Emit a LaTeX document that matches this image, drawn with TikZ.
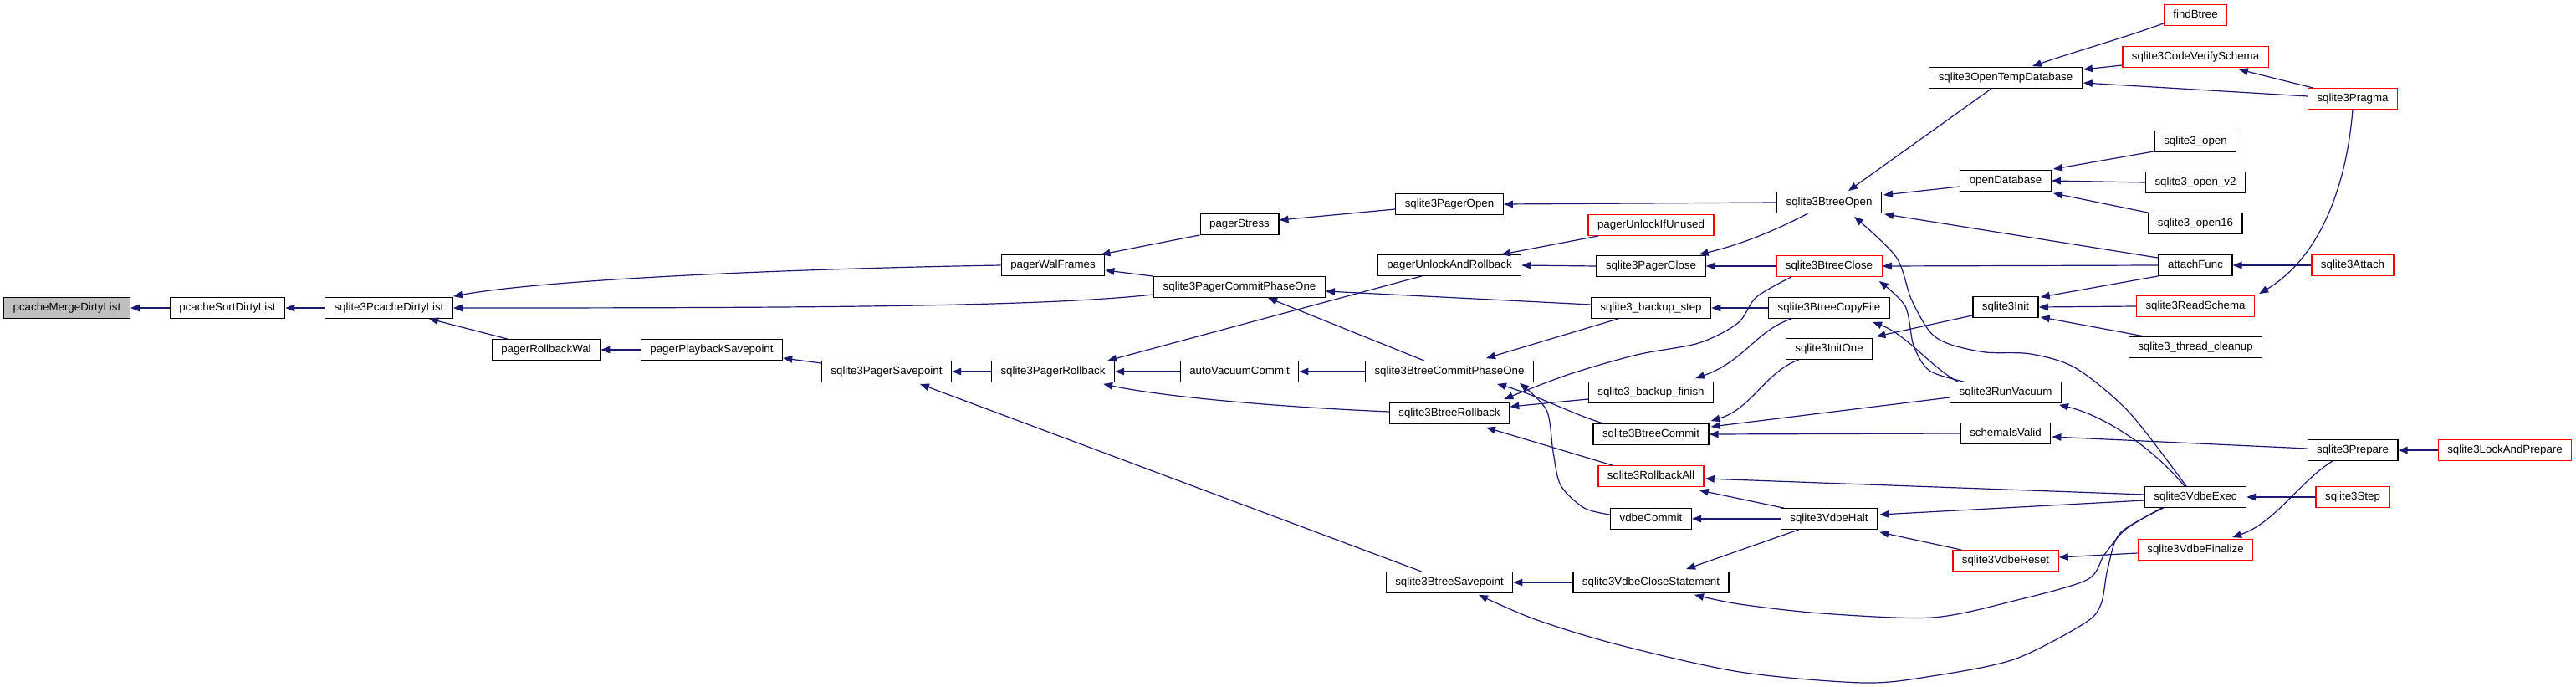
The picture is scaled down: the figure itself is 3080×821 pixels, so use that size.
\documentclass[tikz,border=0pt]{standalone}
\usepackage{fontspec}
\setmainfont{Liberation Sans}
\usetikzlibrary{arrows.meta,calc}
\definecolor{edgeblue}{RGB}{25,25,112}
\definecolor{nodegray}{RGB}{191,191,191}
\definecolor{nodered}{RGB}{255,0,0}
\newcommand\fnfont{\fontsize{13.3}{15}\selectfont}
\tikzset{
  fn/.style={draw=black, fill=white, line width=1.3pt, inner xsep=11pt, inner ysep=0pt,
    minimum height=24.5pt, text height=9.8pt, text depth=2.8pt, font=\fnfont},
  fnred/.style={fn, draw=nodered},
  fncur/.style={fn, fill=nodegray},
  edge/.style={draw=edgeblue, line width=1.2pt, -{Triangle[length=11pt,width=8.5pt]}},
}
\begin{document}
\begin{tikzpicture}[x=1pt,y=-1pt]
\useasboundingbox (0,0) rectangle (3080,821);
% nodes
\node[fncur] (A) at (80,368) {pcacheMergeDirtyList};
\node[fn] (B) at (272,368) {pcacheSortDirtyList};
\node[fn] (C) at (465,368) {sqlite3PcacheDirtyList};
\node[fn] (D) at (653,418) {pagerRollbackWal};
\node[fn] (E) at (1259,317) {pagerWalFrames};
\node[fn] (F) at (851,418) {pagerPlaybackSavepoint};
\node[fn] (G) at (1060,444) {sqlite3PagerSavepoint};
\node[fn] (H) at (1482,268) {pagerStress};
\node[fn] (I) at (1482,343) {sqlite3PagerCommitPhaseOne};
\node[fn] (J) at (1259,444) {sqlite3PagerRollback};
\node[fn] (K) at (1482,444) {autoVacuumCommit};
\node[fn] (L) at (1733,244) {sqlite3PagerOpen};
\node[fn] (M) at (1733,317) {pagerUnlockAndRollback};
\node[fn] (N) at (1733,444) {sqlite3BtreeCommitPhaseOne};
\node[fn] (O) at (1733,494) {sqlite3BtreeRollback};
\node[fn] (P) at (1733,696) {sqlite3BtreeSavepoint};
\node[fnred] (Q) at (1974,269) {pagerUnlockIfUnused};
\node[fn] (R) at (1974,318) {sqlite3PagerClose};
\node[fn] (S) at (1974,368) {sqlite3\_backup\_step};
\node[fn] (T) at (1974,469) {sqlite3\_backup\_finish};
\node[fn] (U) at (1974,519) {sqlite3BtreeCommit};
\node[fnred] (V) at (1974,569) {sqlite3RollbackAll};
\node[fn] (W) at (1974,620) {vdbeCommit};
\node[fn] (X) at (1974,696) {sqlite3VdbeCloseStatement};
\node[fn] (Y) at (2187,242) {sqlite3BtreeOpen};
\node[fnred] (Z) at (2187,318) {sqlite3BtreeClose};
\node[fn] (AA) at (2187,368) {sqlite3BtreeCopyFile};
\node[fn] (AB) at (2187,417) {sqlite3InitOne};
\node[fn] (AC) at (2187,620) {sqlite3VdbeHalt};
\node[fn] (AD) at (2398,93) {sqlite3OpenTempDatabase};
\node[fn] (AE) at (2398,216) {openDatabase};
\node[fn] (AF) at (2398,367) {sqlite3Init};
\node[fn] (AG) at (2398,469) {sqlite3RunVacuum};
\node[fn] (AH) at (2398,518) {schemaIsValid};
\node[fnred] (AI) at (2398,670) {sqlite3VdbeReset};
\node[fnred] (AJ) at (2625,18) {findBtree};
\node[fnred] (AK) at (2625,68) {sqlite3CodeVerifySchema};
\node[fn] (AL) at (2625,169) {sqlite3\_open};
\node[fn] (AM) at (2625,218) {sqlite3\_open\_v2};
\node[fn] (AN) at (2625,267) {sqlite3\_open16};
\node[fn] (AO) at (2625,317) {attachFunc};
\node[fnred] (AP) at (2625,366) {sqlite3ReadSchema};
\node[fn] (AQ) at (2625,415) {sqlite3\_thread\_cleanup};
\node[fn] (AR) at (2625,594) {sqlite3VdbeExec};
\node[fnred] (AS) at (2625,657) {sqlite3VdbeFinalize};
\node[fnred] (AT) at (2813,118) {sqlite3Pragma};
\node[fnred] (AU) at (2813,317) {sqlite3Attach};
\node[fn] (AV) at (2813,538) {sqlite3Prepare};
\node[fnred] (AW) at (2813,594) {sqlite3Step};
\node[fnred] (AX) at (2995,538) {sqlite3LockAndPrepare};
% edges
\draw[edge] (B.west) -- (A.east);
\draw[edge] (C.west) -- (B.east);
\draw[edge] (E.west) .. controls (900,322) and (640,336) .. ($(C.north east)+(0,-1)$);
\draw[edge] ($(I.west)+(0,9)$) .. controls (1250,366) and (1000,368) .. (C.east);
\draw[edge] ($(D.north)+(-46,0)$) -- ($(C.south)+(48,0)$);
\draw[edge] (F.west) -- (D.east);
\draw[edge] ($(G.west)+(0,-10)$) -- ($(F.east)+(0,10)$);
\draw[edge] (H.south west) -- ($(E.north east)+(-5,0)$);
\draw[edge] (I.north west) -- ($(E.east)+(0,6)$);
\draw[edge] ($(L.west)+(0,6)$) -- ($(H.east)+(0,-5)$);
\draw[edge] (Y.west) -- (L.east);
\draw[edge] ($(N.north)+(-30,0)$) -- ($(I.south)+(34,0)$);
\draw[edge] ($(S.west)+(0,-4)$) -- ($(I.east)+(0,5)$);
\draw[edge] (J.west) -- (G.east);
\draw[edge] (K.west) -- (J.east);
\draw[edge] (N.west) -- (K.east);
\draw[edge] ($(M.south)+(-33,0)$) -- ($(J.north east)+(-9,0)$);
\draw[edge] ($(O.west)+(0,-2)$) .. controls (1500,485) and (1380,472) .. ($(J.south east)+(-14,2)$);
\draw[edge] ($(P.north)+(-33,0)$) -- ($(G.south)+(40,2)$);
\draw[edge] ($(Q.south west)+(13,0)$) -- ($(M.north)+(62,0)$);
\draw[edge] (R.west) -- (M.east);
\draw[edge] ($(Y.south)+(-25,0)$) .. controls (2110,282) and (2070,295) .. ($(R.north east)+(-8,-1)$);
\draw[edge] (Z.west) -- (R.east);
\draw[edge] (AA.west) -- (S.east);
\draw[edge] ($(S.south)+(-39,0)$) -- ($(N.north)+(44,-3)$);
\draw[edge] ($(U.north west)+(13,0)$) .. controls (1880,495) and (1840,473) .. ($(N.south)+(57,2)$);
\draw[edge] plot[smooth] coordinates {($(W.west)+(0,-5)$) (1894,607) (1866,580) (1857,540) (1849,490) ($(N.south)+(84,1)$)};
\draw[edge] ($(T.west)+(0,8)$) -- ($(O.east)+(0,-8)$);
\draw[edge] plot[smooth] coordinates {($(Z.south)+(-45,0)$) (2100,355) (2078,386) (2031,410) (1957,424) (1874,448) ($(O.north east)+(-7,-4)$)};
\draw[edge] ($(V.north)+(-46,0)$) -- ($(O.south)+(44,4)$);
\draw[edge] ($(AD.south)+(-17,0)$) -- ($(Y.north)+(23,-1)$);
\draw[edge] ($(AE.west)+(0,7)$) -- ($(Y.east)+(2,-9)$);
\draw[edge] ($(AO.north west)+(0,4)$) -- ($(Y.south east)+(3,1)$);
\draw[edge] plot[smooth] coordinates {($(AR.north)+(-11,0)$) (2546,493) (2482,440) (2428,423) (2374,421) (2330,411) (2307,396) (2285,357) (2267,307) ($(Y.south)+(30,4)$)};
\draw[edge] ($(AV.west)+(0,-2)$) -- ($(AH.east)+(1,4)$);
\draw[edge] ($(AG.west)+(0,6)$) -- ($(U.east)+(2,-9)$);
\draw[edge] ($(AB.south west)+(16,0)$) .. controls (2110,445) and (2095,488) .. ($(U.north east)+(2,-3)$);
\draw[edge] (AH.west) -- (U.east);
\draw[edge] (AO.west) -- (Z.east);
\draw[edge] plot[smooth] coordinates {($(AG.north west)+(17,0)$) (2307,443) (2288,413) (2278,366) ($(Z.south east)+(-4,5)$)};
\draw[edge] ($(AG.north west)+(10,0)$) .. controls (2310,440) and (2280,400) .. ($(AA.south east)+(-21,4)$);
\draw[edge] ($(AA.south west)+(28,0)$) .. controls (2100,395) and (2085,432) .. ($(T.north east)+(-22,-4)$);
\draw[edge] ($(AF.west)+(0,10)$) -- ($(AB.north east)+(4,-2)$);
\draw[edge] ($(AR.west)+(0,-3)$) -- ($(V.east)+(1,3)$);
\draw[edge] ($(AC.north west)+(4,0)$) -- ($(V.south east)+(-6,4)$);
\draw[edge] (AC.west) -- (W.east);
\draw[edge] ($(AR.west)+(0,4)$) -- ($(AC.east)+(2,-5)$);
\draw[edge] ($(AI.north west)+(11,0)$) -- ($(AC.south east)+(2,3)$);
\draw[edge] ($(AC.south west)+(22,0)$) -- ($(X.north)+(42,-3)$);
\draw[edge] (X.west) -- (P.east);
\draw[edge] plot[smooth] coordinates {($(AR.south west)+(21,0)$) (2541,633) (2516,663) (2495,693) (2408,718) (2310,738) (2178,733) (2080,722) ($(X.south)+(52,2)$)};
\draw[edge] plot[smooth] coordinates {($(AR.south west)+(23,0)$) (2535,637) (2520,680) (2512,722) (2492,745) (2408,788) (2310,808) (2228,816) (2080,803) (1933,770) (1835,740) ($(P.south)+(35,2)$)};
\draw[edge] ($(AR.north)+(-13,0)$) .. controls (2570,530) and (2510,495) .. ($(AG.south east)+(-3,2)$);
\draw[edge] (AW.west) -- (AR.east);
\draw[edge] (AX.west) -- (AV.east);
\draw[edge] ($(AV.south)+(-24,0)$) .. controls (2750,575) and (2720,625) .. ($(AS.north)+(44,-2)$);
\draw[edge] ($(AS.west)+(0,4)$) -- ($(AI.east)+(0,-4)$);
\draw[edge] ($(AL.south west)+(0,-1)$) -- ($(AE.north east)+(2,-1)$);
\draw[edge] (AM.west) -- (AE.east);
\draw[edge] (AN.north west) -- ($(AE.south east)+(2,2)$);
\draw[edge] ($(AJ.west)+(0,10)$) .. controls (2540,45) and (2480,62) .. ($(AD.north)+(32,-1)$);
\draw[edge] ($(AK.west)+(0,10)$) -- ($(AD.east)+(1,-10)$);
\draw[edge] ($(AT.west)+(0,-3)$) -- ($(AD.east)+(1,6)$);
\draw[edge] ($(AT.north west)+(7,0)$) -- ($(AK.south east)+(-36,2)$);
\draw[edge] (AT.south) .. controls (2805,230) and (2770,310) .. ($(AP.north east)+(5,-2)$);
\draw[edge] (AU.west) -- (AO.east);
\draw[edge] (AO.south west) -- ($(AF.north east)+(2,1)$);
\draw[edge] (AP.west) -- (AF.east);
\draw[edge] ($(AQ.north west)+(20,0)$) -- ($(AF.south east)+(2,-1)$);
\end{tikzpicture}
\end{document}
